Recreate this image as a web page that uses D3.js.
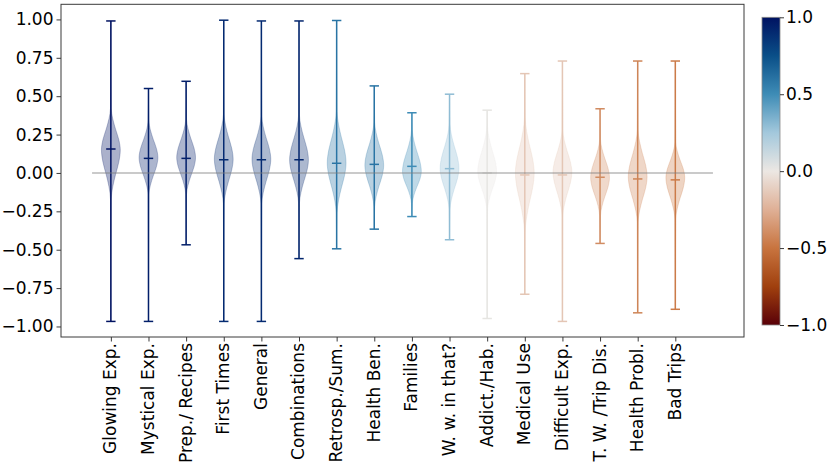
<!DOCTYPE html>
<html>
<head>
<meta charset="utf-8">
<script src="https://cdn.jsdelivr.net/npm/d3@7"></script>
<style>
  html, body { margin: 0; padding: 0; background: #fff; }
  svg { display: block; }
  text { font-family: "DejaVu Sans", sans-serif; fill: #000; }
</style>
</head>
<body>
<svg id="chart" width="830" height="467"></svg>
<script>
// ---- data ----
const categories = ["Glowing Exp.", "Mystical Exp.", "Prep./ Recipes", "First Times", "General",
  "Combinations", "Retrosp./Sum.", "Health Ben.", "Families", "W. w. in that?", "Addict./Hab.",
  "Medical Use", "Difficult Exp.", "T. W. /Trip Dis.", "Health Probl.", "Bad Trips"];
const medians = [0.156, 0.095, 0.095, 0.086, 0.086, 0.086, 0.063, 0.056, 0.043, 0.028, 0.0,
  -0.013, -0.013, -0.028, -0.039, -0.045];
const minima = [-0.967, -0.967, -0.468, -0.967, -0.967, -0.558, -0.494, -0.366, -0.284, -0.435,
  -0.948, -0.790, -0.967, -0.459, -0.911, -0.888];
const maxima = [0.990, 0.550, 0.597, 0.995, 0.990, 0.990, 0.993, 0.567, 0.392, 0.513, 0.409,
  0.647, 0.729, 0.418, 0.729, 0.729];
// violin body: value of widest point, and where the body visibly ends above / below
const peaks = [0.15, 0.10, 0.10, 0.09, 0.09, 0.085, 0.065, 0.05, 0.01, 0.03, 0.01, 0.0, 0.005,
  -0.03, -0.025, -0.03];
const upperTips = [0.42, 0.34, 0.35, 0.38, 0.37, 0.38, 0.40, 0.33, 0.28, 0.32, 0.30, 0.36, 0.28,
  0.22, 0.28, 0.20];
const lowerTips = [-0.17, -0.14, -0.14, -0.20, -0.20, -0.20, -0.26, -0.22, -0.20, -0.24, -0.24,
  -0.38, -0.28, -0.28, -0.32, -0.30];
// colour value of each violin on the colour bar
const colorValues = [1.0, 0.95, 0.95, 0.9, 0.9, 0.92, 0.6, 0.6, 0.5, 0.3, 0.02, -0.15, -0.15,
  -0.4, -0.43, -0.47];
// shared body profile: [fraction of way to tip, relative half width]
const profileUp = [[0, 1], [0.25, 0.84], [0.5, 0.5], [0.75, 0.2], [1, 0.04]];
const profileDown = [[0, 1], [0.25, 0.84], [0.5, 0.5], [0.75, 0.2], [1, 0.04]];
const yTicks = [-1.0, -0.75, -0.5, -0.25, 0.0, 0.25, 0.5, 0.75, 1.0];
const cbTicks = [-1.0, -0.5, 0.0, 0.5, 1.0];
const cbStops = [-1, -0.75, -0.5, -0.25, 0, 0.25, 0.5, 0.75, 1];
const cbColors = ["#590008", "#a0400e", "#c8743f", "#dfb096", "#ece7e3", "#a3c8dc", "#3e8cb6",
  "#0a4f88", "#001261"];

// ---- layout ----
const FS = "17px";
const svg = d3.select("#chart");
const plot = { left: 61, right: 744, top: 4.3, bottom: 337 };
const x = d3.scaleLinear().domain([-0.325, 17.825]).range([plot.left, plot.right]);
const y = d3.scaleLinear().domain([-1.0685, 1.0985]).range([plot.bottom, plot.top]);
const color = d3.scaleLinear().domain(cbStops).range(cbColors).interpolate(d3.interpolateRgb);
const fmt = v => d3.format(".2f")(v).replace("-", "\u2212");
const fmt1 = v => d3.format(".1f")(v).replace("-", "\u2212");
const halfW = x(0.25) - x(0);
const capW = x(0.125) - x(0);

// violins
const area = d3.area()
  .y(d => y(d.v))
  .x0(d => d.c - d.w * halfW)
  .x1(d => d.c + d.w * halfW)
  .curve(d3.curveMonotoneY);

categories.forEach((cat, i) => {
  const pos = i + 1, c = x(pos), col = color(colorValues[i]);
  const pts = [];
  pts.push({ v: minima[i], w: 0, c });
  profileDown.slice().reverse().forEach(([f, w]) => {
    pts.push({ v: peaks[i] + f * (lowerTips[i] - peaks[i]), w, c });
  });
  profileUp.slice(1).forEach(([f, w]) => {
    pts.push({ v: peaks[i] + f * (upperTips[i] - peaks[i]), w, c });
  });
  pts.push({ v: maxima[i], w: 0, c });
  pts.sort((a, b) => a.v - b.v);
  svg.append("path").attr("d", area(pts))
    .attr("fill", col).attr("fill-opacity", 0.33)
    .attr("stroke", col).attr("stroke-opacity", 0.25).attr("stroke-width", 1);
});

// lines: bars, caps, medians
categories.forEach((cat, i) => {
  const c = x(i + 1), col = color(colorValues[i]);
  const g = svg.append("g").attr("stroke", col).attr("stroke-width", 1.5).attr("fill", "none");
  g.append("line").attr("x1", c).attr("x2", c).attr("y1", y(minima[i])).attr("y2", y(maxima[i]));
  g.append("line").attr("x1", c - capW).attr("x2", c + capW).attr("y1", y(minima[i])).attr("y2", y(minima[i]));
  g.append("line").attr("x1", c - capW).attr("x2", c + capW).attr("y1", y(maxima[i])).attr("y2", y(maxima[i]));
  g.append("line").attr("x1", c - capW).attr("x2", c + capW).attr("y1", y(medians[i])).attr("y2", y(medians[i]));
});

// zero reference line
svg.append("line").attr("x1", x(0.5)).attr("x2", x(17)).attr("y1", y(0)).attr("y2", y(0))
  .attr("stroke", "#808080").attr("stroke-opacity", 0.55).attr("stroke-width", 1.5);

// frame
svg.append("rect").attr("x", plot.left).attr("y", plot.top)
  .attr("width", plot.right - plot.left).attr("height", plot.bottom - plot.top)
  .attr("fill", "none").attr("stroke", "#3a3a3a").attr("stroke-width", 1);

// y axis
const yAxis = d3.axisLeft(y).tickValues(yTicks).tickFormat(fmt).tickSize(4.5).tickPadding(3);
const gy = svg.append("g").attr("transform", `translate(${plot.left},0)`).call(yAxis);
gy.attr("font-size", null).attr("font-family", null);
gy.select(".domain").remove();
gy.selectAll("text").style("font-size", FS).attr("fill", "#000");
gy.selectAll("line").attr("stroke", "#3a3a3a");

// x axis
const xAxis = d3.axisBottom(x).tickValues(categories.map((d, i) => i + 1))
  .tickFormat((d, i) => categories[i]).tickSize(4.5).tickPadding(3);
const gx = svg.append("g").attr("transform", `translate(0,${plot.bottom})`).call(xAxis);
gx.attr("font-size", null).attr("font-family", null);
gx.select(".domain").remove();
gx.selectAll("line").attr("stroke", "#3a3a3a");
gx.selectAll("text")
  .style("font-size", FS).attr("fill", "#000")
  .attr("text-anchor", "end")
  .attr("dy", "0.35em")
  .attr("transform", "translate(-1,2) rotate(-90)")
  .attr("x", -4).attr("y", 0);

// colour bar
const cb = { left: 762, width: 18, top: 17.3, bottom: 325 };
const cy = d3.scaleLinear().domain([-1, 1]).range([cb.bottom, cb.top]);
const defs = svg.append("defs");
const grad = defs.append("linearGradient").attr("id", "cbgrad")
  .attr("x1", 0).attr("y1", 1).attr("x2", 0).attr("y2", 0);
cbStops.forEach((s, i) => {
  grad.append("stop").attr("offset", (s + 1) / 2).attr("stop-color", cbColors[i]);
});
svg.append("rect").attr("x", cb.left).attr("y", cb.top).attr("width", cb.width)
  .attr("height", cb.bottom - cb.top).attr("fill", "url(#cbgrad)")
  .attr("stroke", "#8a8a8a").attr("stroke-width", 0.8);
const cAxis = d3.axisRight(cy).tickValues(cbTicks).tickFormat(fmt1).tickSize(4).tickPadding(2);
const gc = svg.append("g").attr("transform", `translate(${cb.left + cb.width},0)`).call(cAxis);
gc.attr("font-size", null).attr("font-family", null);
gc.select(".domain").remove();
gc.selectAll("line").attr("stroke", "#3a3a3a");
gc.selectAll("text").style("font-size", FS).attr("fill", "#000");
</script>
</body>
</html>
